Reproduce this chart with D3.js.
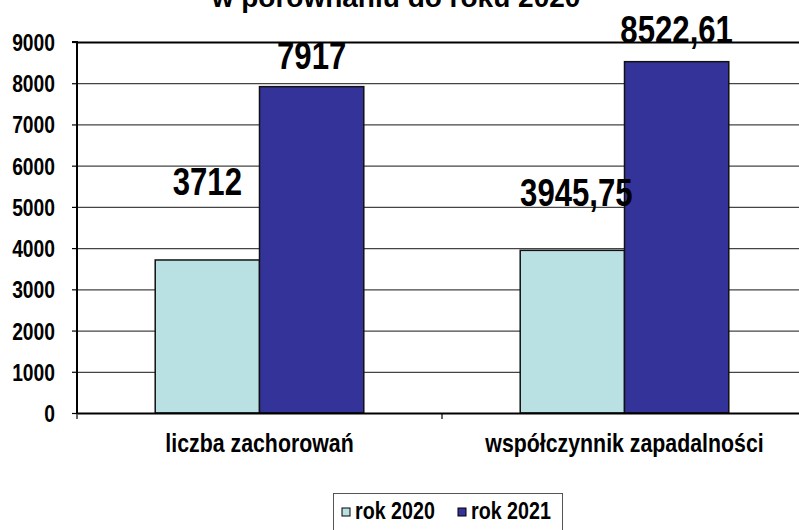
<!DOCTYPE html>
<html>
<head>
<meta charset="utf-8">
<script src="https://cdn.jsdelivr.net/npm/d3@7"></script>
<style>
  body { margin: 0; background: #fff; }
  svg { display: block; }
  text { font-family: "Liberation Sans", Arial, sans-serif; font-weight: bold; }
</style>
</head>
<body>
<div id="chart"></div>
<script>
// chart data
var categories = ["liczba zachorowań", "współczynnik zapadalności"];
var seriesNames = ["rok 2020", "rok 2021"];
var values2020 = [3712, 3945.75];
var values2021 = [7917, 8522.61];
var yTickValues = [0, 1000, 2000, 3000, 4000, 5000, 6000, 7000, 8000, 9000];
var titleText = "w porównaniu do roku 2020";

var svgWidth = 799;
var svgHeight = 530;
var colors = ["#B9E0E3", "#333399"];
// no narrow font installed, so squeeze Arial-like text horizontally
var narrow = 0.82;

var svg = d3.select("#chart")
  .append("svg")
  .attr("width", svgWidth)
  .attr("height", svgHeight);

// plot area (right side runs past the window, as in the original)
var plotLeft = 77, plotRight = 807, plotTop = 42, plotBottom = 413;

var x0 = d3.scaleBand()
  .domain(categories)
  .range([plotLeft, plotRight])
  .padding(0);

var x1 = d3.scaleBand()
  .domain(seriesNames)
  .range([0, x0.bandwidth()])
  .paddingInner(0)
  .paddingOuter(0.75);

var y = d3.scaleLinear()
  .domain([0, 9000])
  .range([plotBottom, plotTop]);

var rows = categories.map(function(c, i) {
  return { category: c, values: [values2020[i], values2021[i]] };
});

function narrowText(parent, x, yy, str, size, anchor) {
  return parent.append("text")
    .attr("transform", `translate(${x},${yy}) scale(${narrow},1)`)
    .attr("text-anchor", anchor || "middle")
    .attr("font-size", size + "px")
    .attr("fill", "#000")
    .text(str);
}

// title (cut off at the top edge, as in the original)
svg.append("text")
  .attr("x", 396)
  .attr("y", 7)
  .attr("text-anchor", "middle")
  .attr("font-size", "28px")
  .text(titleText);

// gridlines
svg.append("g")
  .selectAll("line")
  .data(yTickValues)
  .enter()
  .append("line")
  .attr("x1", plotLeft)
  .attr("x2", plotRight)
  .attr("y1", d => y(d) + 0.5)
  .attr("y2", d => y(d) + 0.5)
  .attr("stroke", d => d === 9000 ? "#000" : "#444")
  .attr("stroke-width", d => d === 9000 ? 2 : 1.2);

// bars
var groups = svg.selectAll(".cat")
  .data(rows)
  .enter()
  .append("g")
  .attr("class", "cat")
  .attr("transform", d => `translate(${x0(d.category)},0)`);

groups.selectAll("rect")
  .data(d => d.values.map((v, i) => ({ series: seriesNames[i], value: v, idx: i })))
  .enter()
  .append("rect")
  .attr("x", d => x1(d.series))
  .attr("y", d => y(d.value))
  .attr("width", x1.bandwidth())
  .attr("height", d => y(0) - y(d.value))
  .attr("fill", d => colors[d.idx])
  .attr("stroke", "#111")
  .attr("stroke-width", 1.5);

// value labels, lifted by hand the way they sit in the original
var labelLift = [[65, 18], [44, 19]];
groups.each(function(d, ci) {
  var g = d3.select(this);
  d.values.forEach(function(v, i) {
    var cx = x1(seriesNames[i]) + x1.bandwidth() / 2 + (ci === 1 && i === 0 ? 4 : 0);
    narrowText(g, cx, y(v) - labelLift[ci][i], String(v).replace(".", ","), 38);
  });
});

// y axis
var leftAxis = d3.axisLeft(y)
  .tickValues(yTickValues)
  .tickSize(5)
  .tickFormat(d3.format("d"));

var yAxisG = svg.append("g")
  .attr("transform", `translate(${plotLeft},0)`)
  .call(leftAxis);
yAxisG.select(".domain").attr("stroke", "#000").attr("stroke-width", 2).attr("d", `M-5,${plotTop}H0V${plotBottom}`);
yAxisG.selectAll(".tick line").attr("stroke", "#000").attr("stroke-width", 1.2);
yAxisG.selectAll(".tick text")
  .attr("x", 0)
  .attr("dy", "0.36em")
  .attr("transform", `translate(-22,0) scale(${narrow},1)`)
  .attr("font-size", "23.5px")
  .attr("font-family", null)
  .attr("fill", "#000");

// x axis
var bottomAxis = d3.axisBottom(x0).tickSize(0);
var xAxisG = svg.append("g")
  .attr("transform", `translate(0,${plotBottom})`)
  .call(bottomAxis);
xAxisG.select(".domain").attr("stroke", "#000").attr("stroke-width", 2);
xAxisG.selectAll(".tick text")
  .attr("y", 0)
  .attr("dy", null)
  .attr("transform", `translate(0,39) scale(${narrow},1)`)
  .attr("font-size", "26px")
  .attr("font-family", null)
  .attr("fill", "#000");

// small category tick marks between categories
svg.append("g")
  .selectAll("line")
  .data(categories)
  .enter()
  .append("line")
  .attr("x1", d => x0(d))
  .attr("x2", d => x0(d))
  .attr("y1", plotBottom)
  .attr("y2", plotBottom + 6)
  .attr("stroke", "#000")
  .attr("stroke-width", 1.2);

// legend
var legend = svg.append("g").attr("transform", "translate(333,493)");
legend.append("rect")
  .attr("x", 0.5)
  .attr("y", 0.5)
  .attr("width", 229)
  .attr("height", 45)
  .attr("fill", "#fff")
  .attr("stroke", "#555")
  .attr("stroke-width", 1);

var legendItems = legend.selectAll(".item")
  .data(seriesNames)
  .enter()
  .append("g")
  .attr("class", "item")
  .attr("transform", (d, i) => `translate(${9 + i * 116},0)`);

legendItems.append("rect")
  .attr("x", 0)
  .attr("y", 15)
  .attr("width", 8)
  .attr("height", 8)
  .attr("fill", (d, i) => colors[i])
  .attr("stroke", "#000")
  .attr("stroke-width", 1);

legendItems.each(function(d) {
  narrowText(d3.select(this), 13, 26, d, 24, "start");
});
</script>
</body>
</html>
